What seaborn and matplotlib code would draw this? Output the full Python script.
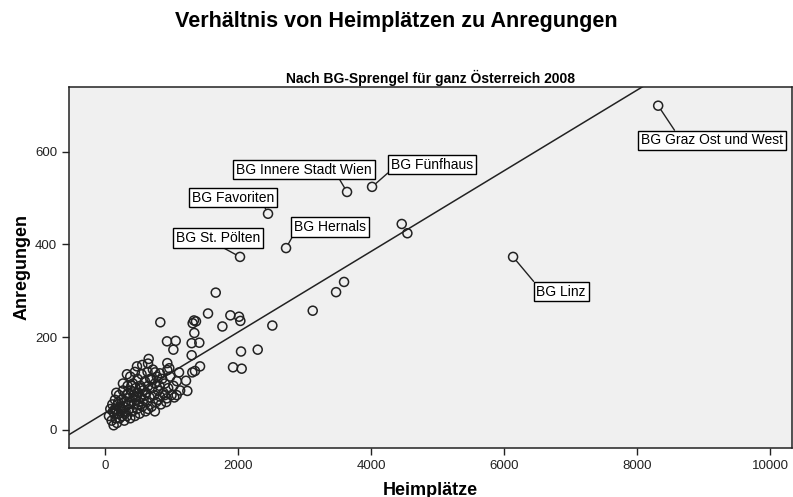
import matplotlib
matplotlib.use('Agg')
import matplotlib.pyplot as plt
import seaborn as sns
import pandas as pd

# ---- data (Heimplätze vs. Anregungen per BG-Sprengel) ----
# dense cluster of small districts
cluster_x = [60, 80, 100, 110, 130, 140, 150, 160, 170, 180, 190, 200, 210, 220, 230,
             240, 250, 260, 270, 280, 290, 300, 310, 320, 330, 340, 350, 360, 370, 380,
             390, 400, 410, 420, 430, 440, 450, 460, 470, 480, 490, 500, 510, 520, 530,
             540, 550, 560, 570, 580, 600, 610, 620, 630, 640, 650, 670, 680, 700, 710,
             720, 740, 750, 770, 780, 800, 820, 840, 860, 880, 900, 920, 950, 980, 1000,
             1030, 1080, 1130, 150, 250, 350, 450, 550, 650, 750, 120, 200, 300, 400, 500,
             600, 700, 800, 900, 380, 270, 170, 450, 560, 330]
cluster_y = [30, 45, 20, 55, 10, 35, 65, 25, 45, 15, 55, 35, 75, 25, 50,
             40, 65, 30, 85, 50, 20, 60, 40, 75, 30, 95, 55, 45, 70, 25,
             85, 60, 40, 100, 75, 55, 30, 90, 65, 45, 110, 80, 60, 35, 95,
             70, 120, 50, 85, 65, 105, 40, 80, 60, 125, 95, 70, 110, 50, 90,
             130, 75, 100, 60, 115, 85, 95, 55, 110, 80, 100, 60, 90, 115, 75,
             95, 105, 85, 45, 45, 80, 70, 90, 45, 40, 40, 60, 35, 95, 55,
             75, 110, 65, 75, 115, 100, 80, 125, 140, 120]

# medium districts
mid_x = [1665, 3123, 2516, 2296, 2045, 1925, 2055, 1885, 2015, 2035, 1765, 1549, 1338,
         1368, 1318, 1343, 832, 932, 1063, 1028, 1303, 1418, 1303, 657, 647, 481, 937,
         1429, 1313, 1353, 1113, 1218, 1238, 1078, 1042, 937, 827, 752, 928, 827, 967,
         3594, 3474, 4461, 4546]
mid_y = [296, 257, 225, 173, 169, 135, 132, 247, 244, 235, 223, 251, 236,
         234, 230, 209, 232, 191, 192, 173, 187, 188, 161, 153, 143, 137, 144,
         137, 124, 127, 124, 106, 84, 75, 70, 129, 122, 124, 68, 72, 133,
         319, 297, 444, 424]

# labelled districts
label_names = ['BG Graz Ost und West', 'BG Linz', 'BG Innere Stadt Wien', 'BG Fünfhaus',
               'BG Favoriten', 'BG Hernals', 'BG St. Pölten']
label_x = [8316, 6135, 3639, 4015, 2451, 2722, 2030]
label_y = [699, 373, 513, 524, 466, 392, 373]
# where the label boxes sit (data coords) and where the leader line leaves the box
box_x = [9128, 6857, 2992, 4917, 1925, 3383, 1699]
box_y = [624, 298, 561, 572, 501, 438, 414]
box_relpos = [(0.25, 1), (0, 1), (0.75, 0), (0, 0.1), (0.87, 0), (0, 0), (0.5, 0)]

df = pd.DataFrame({
    'Heimplätze': cluster_x + mid_x + label_x,
    'Anregungen': cluster_y + mid_y + label_y,
})

# ---- figure ----
sns.set_style('ticks')
plt.rcParams['font.family'] = ['Liberation Sans', 'DejaVu Sans']
plt.rcParams['text.color'] = 'black'
plt.rcParams['axes.labelcolor'] = 'black'

fig = plt.figure(figsize=(7.93, 4.97), dpi=100)
ax = fig.add_axes([0.087, 0.0986, 0.912, 0.727])
ax.set_facecolor('#f0f0f0')

ax.set_xlim(-541, 10331)
ax.set_ylim(-39, 740)

# fit line over the whole range (SPSS "fit line at total")
sns.regplot(data=df, x='Heimplätze', y='Anregungen', ax=ax, scatter=False,
            ci=None, truncate=False, line_kws=dict(color='#222222', lw=1.1))

sns.scatterplot(data=df, x='Heimplätze', y='Anregungen', ax=ax, marker='o', s=42,
                facecolor='none', edgecolor='#222222', linewidth=1.1, zorder=3)

for name, px, py, bx, by, rp in zip(label_names, label_x, label_y, box_x, box_y, box_relpos):
    ax.annotate(name, xy=(px, py), xytext=(bx, by), ha='center', va='center',
                fontsize=10, color='black', zorder=5,
                bbox=dict(boxstyle='square,pad=0.2', fc='white', ec='black', lw=1.0),
                arrowprops=dict(arrowstyle='-', color='#222222', lw=1.0, relpos=rp,
                                shrinkA=0, shrinkB=3.5))

ax.set_xticks([0, 2000, 4000, 6000, 8000, 10000])
ax.set_yticks([0, 200, 400, 600])
ax.tick_params(axis='both', labelsize=9.5, length=5, width=1, colors='#222222',
               labelcolor='#222222')
for sp in ax.spines.values():
    sp.set_visible(True)
    sp.set_color('#222222')
    sp.set_linewidth(1.1)

ax.set_xlabel('Heimplätze', fontsize=13, fontweight='bold', labelpad=7)
ax.set_ylabel('Anregungen', fontsize=13, fontweight='bold', labelpad=3)
ax.set_title('Nach BG-Sprengel für ganz Österreich 2008', fontsize=10, fontweight='bold',
             pad=3)

fig.text(0.5, 0.957, 'Verhältnis von Heimplätzen zu Anregungen', ha='center', va='center',
         fontsize=15.5, fontweight='bold')

plt.savefig('out.png', dpi=100)
